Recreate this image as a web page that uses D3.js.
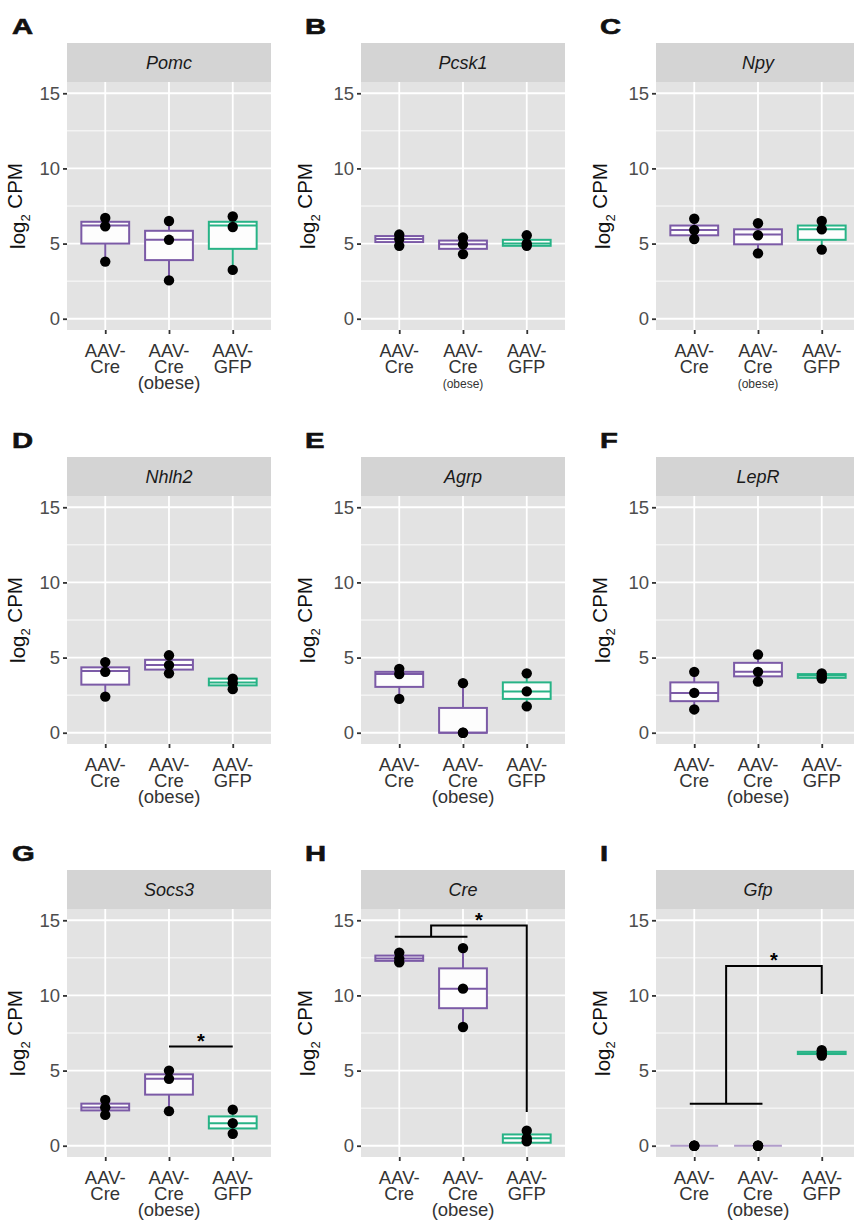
<!DOCTYPE html>
<html>
<head>
<meta charset="utf-8">
<script src="https://cdn.jsdelivr.net/npm/d3@7"></script>
<style>
  body { margin: 0; background: #fff; }
  text { font-family: "Liberation Sans", Arial, sans-serif; }
</style>
</head>
<body>
<svg id="fig" width="854" height="1225"></svg>
<script>
// ---- data ----
const genes = ["Pomc", "Pcsk1", "Npy", "Nhlh2", "Agrp", "LepR", "Socs3", "Cre", "Gfp"];
const letters = ["A", "B", "C", "D", "E", "F", "G", "H", "I"];
const groups = ["AAV-Cre", "AAV-Cre (obese)", "AAV-GFP"];
const groupLabels = [["AAV-", "Cre"], ["AAV-", "Cre", "(obese)"], ["AAV-", "GFP"]];
const yTicks = [0, 5, 10, 15];
const yMinor = [2.5, 7.5, 12.5];

// box stats per group: [lower whisker, q1, median, q3, upper whisker]
const pomcBox  = [[3.8, 5.0, 6.2, 6.45, 6.7], [2.55, 3.9, 5.25, 5.85, 6.5], [3.25, 4.65, 6.2, 6.45, 6.8]];
const pcsk1Box = [[4.85, 5.1, 5.3, 5.5, 5.6], [4.3, 4.65, 4.95, 5.2, 5.4], [4.85, 4.85, 5.0, 5.25, 5.55]];
const npyBox   = [[5.3, 5.55, 5.9, 6.2, 6.65], [4.35, 4.95, 5.6, 5.95, 6.35], [4.6, 5.25, 5.95, 6.2, 6.5]];
const nhlh2Box = [[2.4, 3.2, 4.1, 4.35, 4.7], [3.95, 4.2, 4.5, 4.85, 5.15], [2.9, 3.15, 3.35, 3.6, 3.6]];
const agrpBox  = [[2.25, 3.05, 3.9, 4.05, 4.25], [0, 0, 0, 1.65, 3.3], [1.75, 2.25, 2.75, 3.35, 3.95]];
const leprBox  = [[1.55, 2.1, 2.65, 3.35, 4.05], [3.4, 3.75, 4.05, 4.65, 5.2], [3.6, 3.65, 3.8, 3.9, 3.95]];
const socs3Box = [[2.05, 2.35, 2.55, 2.8, 3.05], [2.3, 3.4, 4.45, 4.75, 5.0], [0.8, 1.15, 1.5, 1.95, 2.4]];
const creBox   = [[12.2, 12.3, 12.45, 12.65, 12.85], [7.9, 9.15, 10.45, 11.8, 13.15], [0.2, 0.2, 0.5, 0.75, 1.0]];
const gfpBox   = [[0, 0, 0, 0, 0], [0, 0, 0, 0, 0], [6.0, 6.1, 6.15, 6.25, 6.35]];

// individual samples per group
const pomcPts  = [[3.8, 6.15, 6.7], [2.55, 5.25, 6.5], [3.25, 6.1, 6.8]];
const pcsk1Pts = [[4.85, 5.3, 5.6], [4.3, 4.95, 5.4], [4.85, 5.0, 5.55]];
const npyPts   = [[5.3, 5.9, 6.65], [4.35, 5.55, 6.35], [4.6, 5.95, 6.5]];
const nhlh2Pts = [[2.4, 4.05, 4.7], [3.95, 4.5, 5.15], [2.9, 3.3, 3.6]];
const agrpPts  = [[2.25, 3.9, 4.25], [0, 0, 3.3], [1.75, 2.75, 3.95]];
const leprPts  = [[1.55, 2.65, 4.05], [3.4, 4.05, 5.2], [3.6, 3.75, 3.95]];
const socs3Pts = [[2.05, 2.55, 3.05], [2.3, 4.45, 5.0], [0.8, 1.5, 2.4]];
const crePts   = [[12.2, 12.45, 12.85], [7.9, 10.45, 13.15], [0.3, 0.5, 1.0]];
const gfpPts   = [[0, 0, 0], [0, 0, 0], [6.0, 6.15, 6.35]];

// significance brackets: [group position, log2 CPM] vertices; star at the given point
const socs3Sig = { lines: [[[1, 6.6], [2, 6.6]]], star: [1.5, 6.6] };
const creSig = { lines: [[[-0.07, 13.9], [1.07, 13.9]], [[0.5, 13.9], [0.5, 14.65], [2, 14.65], [2, 2.25]]], star: [1.25, 14.65] };
const gfpSig = { lines: [[[-0.07, 2.8], [1.07, 2.8]], [[0.5, 2.8], [0.5, 11.95], [2, 11.95], [2, 10.1]]], star: [1.25, 11.95] };

const boxes = [pomcBox, pcsk1Box, npyBox, nhlh2Box, agrpBox, leprBox, socs3Box, creBox, gfpBox];
const points = [pomcPts, pcsk1Pts, npyPts, nhlh2Pts, agrpPts, leprPts, socs3Pts, crePts, gfpPts];
const sigs = [null, null, null, null, null, null, socs3Sig, creSig, gfpSig];

// ---- layout ----
const colX = [67, 361, 656];
const rowY = [0, 414, 827];
const titleOffset = [42, 46, 46];
const panelW = 204;
const stripTop = 43, plotTop = 82, plotBottom = 330;
const purple = "#7b5aa6", green = "#27b386";
const groupColors = [purple, purple, green];

const svg = d3.select("#fig");

genes.forEach((gene, i) => {
    const col = i % 3, row = Math.floor(i / 3);
    const left = colX[col], top = rowY[row];
    const g = svg.append("g").attr("transform", `translate(0,${top})`);
    const altFont = (i === 1 || i === 2);   // B and C were set in another font

    const x = d3.scaleLinear().domain([-0.6, 2.6]).range([left, left + panelW]);
    const y = d3.scaleLinear().domain([-0.75, 15.75]).range([plotBottom, plotTop]);
    const step = x(1) - x(0);

    // ---- panel letter ----
    g.append("text")
        .attr("transform", `translate(${left - 56 + (col === 0 ? 1 : 0)},34) scale(1.3,1)`)
        .attr("font-family", "DejaVu Sans")
        .attr("font-weight", "bold")
        .attr("font-size", 22.5)
        .attr("stroke", "#111").attr("stroke-width", 0.6)
        .attr("fill", "#111")
        .text(letters[i]);

    // ---- strip ----
    g.append("rect")
        .attr("x", left).attr("y", stripTop)
        .attr("width", panelW).attr("height", plotTop - stripTop)
        .attr("fill", "#d4d4d4");
    g.append("text")
        .attr("x", left + panelW / 2).attr("y", (stripTop + plotTop) / 2 + 6.5)
        .attr("text-anchor", "middle")
        .attr("font-style", "italic")
        .attr("font-size", 18)
        .attr("fill", "#1a1a1a")
        .text(gene);

    // ---- panel background + grid ----
    g.append("rect")
        .attr("x", left).attr("y", plotTop)
        .attr("width", panelW).attr("height", plotBottom - plotTop)
        .attr("fill", "#e3e3e3");

    g.selectAll(".minor").data(yMinor).join("line")
        .attr("x1", left).attr("x2", left + panelW)
        .attr("y1", d => y(d)).attr("y2", d => y(d))
        .attr("stroke", "#fff").attr("stroke-width", 0.9);
    g.selectAll(".major").data(yTicks).join("line")
        .attr("x1", left).attr("x2", left + panelW)
        .attr("y1", d => y(d)).attr("y2", d => y(d))
        .attr("stroke", "#fff").attr("stroke-width", 1.8);
    g.selectAll(".vgrid").data([0, 1, 2]).join("line")
        .attr("x1", d => x(d)).attr("x2", d => x(d))
        .attr("y1", plotTop).attr("y2", plotBottom)
        .attr("stroke", "#fff").attr("stroke-width", 1.8);

    // ---- y axis ----
    const yAxis = g.append("g")
        .attr("transform", `translate(${left},0)`)
        .call(d3.axisLeft(y).tickValues(yTicks).tickSize(4).tickPadding(3));
    yAxis.select(".domain").remove();
    yAxis.selectAll(".tick line").attr("stroke", "#333").attr("stroke-width", 1.8);
    yAxis.selectAll(".tick text")
        .attr("font-family", "Liberation Sans, Arial, sans-serif")
        .attr("font-size", 18.5).attr("fill", "#4d4d4d");

    // y title
    const yt = g.append("text")
        .attr("transform", `translate(${left - titleOffset[col]},${(plotTop + plotBottom) / 2}) rotate(-90)`)
        .attr("text-anchor", "middle")
        .attr("font-size", 20.5)
        .attr("fill", "#111");
    yt.append("tspan").text("log");
    yt.append("tspan").attr("font-size", 13).attr("dy", "0.4em").text("2");
    yt.append("tspan").attr("dy", "-0.4em").text(" CPM");

    // ---- x axis ----
    const xAxis = g.append("g")
        .attr("transform", `translate(0,${plotBottom})`)
        .call(d3.axisBottom(x).tickValues([0, 1, 2]).tickSize(4).tickFormat(""));
    xAxis.select(".domain").remove();
    xAxis.selectAll(".tick line").attr("stroke", "#333").attr("stroke-width", 1.8);

    groupLabels.forEach((lines, k) => {
        lines.forEach((ln, j) => {
            const small = altFont && j === 2;
            g.append("text")
                .attr("x", x(k))
                .attr("y", plotBottom + 27 + j * 16 - (small ? 1.5 : 0))
                .attr("text-anchor", "middle")
                .attr("font-family", altFont ? "Open Sans" : "Liberation Sans, Arial, sans-serif")
                .attr("font-size", small ? 12 : (altFont ? 18 : 18.5))
                .attr("fill", "#333")
                .text(ln);
        });
    });

    // ---- boxplots ----
    const bw = 0.75 * step;
    boxes[i].forEach((s, k) => {
        const [lo, q1, med, q3, hi] = s;
        const c = groupColors[k];
        const cx = x(k);
        const flat = hi === lo;   // all samples identical: box collapses to a faint line
        const bg = g.append("g").attr("stroke-opacity", flat ? 0.6 : 1);
        bg.append("line")
            .attr("x1", cx).attr("x2", cx).attr("y1", y(q3)).attr("y2", y(hi))
            .attr("stroke", c).attr("stroke-width", 2);
        bg.append("line")
            .attr("x1", cx).attr("x2", cx).attr("y1", y(q1)).attr("y2", y(lo))
            .attr("stroke", c).attr("stroke-width", 2);
        bg.append("rect")
            .attr("x", cx - bw / 2).attr("width", bw)
            .attr("y", y(q3)).attr("height", Math.max(0, y(q1) - y(q3)))
            .attr("fill", "#fdfdfd")
            .attr("stroke", c).attr("stroke-width", 2);
        bg.append("line")
            .attr("x1", cx - bw / 2).attr("x2", cx + bw / 2)
            .attr("y1", y(med)).attr("y2", y(med))
            .attr("stroke", c).attr("stroke-width", 2);
    });

    // ---- points ----
    points[i].forEach((vals, k) => {
        g.selectAll(null).data(vals).join("circle")
            .attr("cx", x(k)).attr("cy", d => y(d))
            .attr("r", 5.2)
            .attr("fill", "#000");
    });

    // ---- significance ----
    const sig = sigs[i];
    if (sig) {
        const line = d3.line().x(d => x(d[0])).y(d => y(d[1]));
        sig.lines.forEach(p => {
            g.append("path")
                .attr("d", line(p))
                .attr("fill", "none")
                .attr("stroke", "#000")
                .attr("stroke-width", 2);
        });
        g.append("text")
            .attr("x", x(sig.star[0])).attr("y", y(sig.star[1]) + 1)
            .attr("text-anchor", "middle")
            .attr("font-weight", "bold")
            .attr("font-size", 20)
            .text("*");
    }
});
</script>
</body>
</html>
